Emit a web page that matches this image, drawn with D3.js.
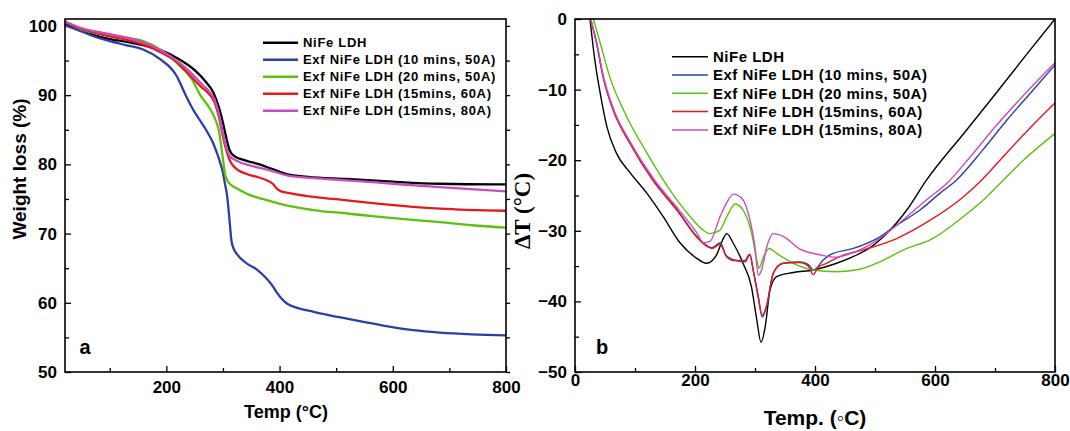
<!DOCTYPE html>
<html>
<head>
<meta charset="utf-8">
<script src="https://cdn.jsdelivr.net/npm/d3@7"></script>
<style>
body { margin: 0; background: #fff; }
svg { font-family: "Liberation Sans", Arial, sans-serif; font-weight: bold; }
.axis line { stroke: #000; stroke-width: 1.3; }
.axis path { display: none; }
</style>
</head>
<body>
<svg width="1070" height="431"></svg>
<script>
var seriesNames = ["NiFe LDH", "Exf NiFe LDH (10 mins, 50A)", "Exf NiFe LDH (20 mins, 50A)",
                   "Exf NiFe LDH (15mins, 60A)", "Exf NiFe LDH (15mins, 80A)"];
var seriesColors = ["#000000", "#2b3fa8", "#5ac20c", "#e41a1c", "#c94cbf"];

// (a) TGA, [temp, weight %]
var tgaNiFe = [[21,100.3],[50,99.3],[75,98.6],[100,98.1],[130,97.7],[160,97.2],[190,96.5],[220,95.3],[250,93.6],
  [270,91.9],[283,90.4],[293,88.2],[300,86.0],[306,83.8],[312,82.0],[320,81.2],[342,80.5],[360,80.1],[385,79.4],
  [413,78.6],[450,78.2],[519,77.9],[600,77.5],[683,77.2],[800,77.1]];
var tga10m50A = [[21,100.1],[50,99.2],[75,98.4],[100,97.8],[130,97.2],[159,96.6],[189,95.2],[218,92.8],[233,90.2],
  [246,88.1],[270,85.0],[282,83.2],[290,81.5],[296,80.0],[300,78.8],[304,77.0],[307,75.7],[311,72.5],[315,69.0],
  [319,67.8],[324,67.1],[342,65.7],[360,64.8],[377,63.5],[388,62.4],[395,61.5],[401,60.85],[413,59.9],[430,59.3],
  [460,58.7],[519,57.7],[577,56.8],[636,56.05],[683,55.7],[740,55.45],[800,55.3]];
var tga20m50A = [[21,100.7],[50,99.5],[75,99.0],[100,98.7],[130,98.3],[159,97.8],[189,96.6],[218,94.7],[245,92.3],
  [260,90.0],[275,88.3],[285,86.8],[293,84.8],[300,80.8],[304,78.5],[308,77.6],[312,77.2],[325,76.5],[342,75.75],
  [370,75.0],[401,74.3],[460,73.4],[519,72.9],[577,72.4],[630,72.0],[683,71.65],[740,71.2],[800,70.85]];
var tga15m60A = [[21,100.5],[50,99.6],[75,99.0],[100,98.5],[130,98.0],[160,97.3],[190,96.2],[215,95.0],[240,93.0],
  [260,91.3],[275,90.2],[285,89.0],[293,86.8],[300,84.0],[306,82.0],[312,80.6],[318,79.8],[342,78.6],[360,78.2],
  [377,77.7],[388,77.2],[395,76.5],[403,76.1],[413,75.9],[460,75.3],[519,74.8],[577,74.3],[683,73.6],[800,73.3]];
var tga15m80A = [[21,100.6],[50,99.7],[75,99.2],[100,98.8],[130,98.3],[160,97.6],[190,96.5],[215,95.2],[240,93.5],
  [260,91.8],[275,90.6],[285,89.4],[293,87.2],[300,84.5],[306,82.4],[312,81.2],[325,80.5],[350,79.8],[380,79.2],
  [413,78.4],[460,78.0],[519,77.7],[600,77.2],[683,76.7],[800,76.1]];

// (b) DTA, [temp, delta T]
var dtaNiFe = [[25,0],[33,-5.8],[42,-10.5],[53,-15.2],[69,-19.0],[92,-21.8],[120,-24.7],[147,-28.0],[175,-31.7],
  [203,-33.9],[219,-34.6],[236,-33.4],[246,-31.3],[253,-30.4],[264,-31.8],[280,-34.6],[294,-37.9],[303,-42.6],
  [310,-45.8],[317,-43.6],[325,-38.4],[336,-36.5],[364,-35.9],[397,-35.55],[436,-34.6],[475,-33.2],[486,-32.7],
  [520,-30.35],[553,-27.05],[586,-22.8],[650,-16.0],[700,-10.7],[750,-5.3],[800,0]];
var dta10m50A = [[26,0],[36,-3.4],[47,-8.2],[64,-12.9],[92,-17.6],[130,-22.8],[170,-27.0],[203,-30.8],[215,-31.8],
  [228,-32.4],[242,-31.7],[252,-33.5],[264,-34.1],[283,-34.4],[291.7,-33.4],[297,-35.55],[305.5,-39.3],[312,-42.2],
  [319.5,-40.7],[330.5,-36.0],[347,-34.6],[375,-34.4],[389,-34.8],[398,-35.55],[414,-34.1],[425,-33.4],[464,-32.5],
  [503,-31.1],[536,-29.2],[575,-27.05],[608,-24.7],[636,-22.8],[680,-18.5],[720,-14.3],[760,-10.4],[800,-6.5]];
var dta20m50A = [[30.5,0],[42,-3.4],[58,-8.2],[86,-13.8],[120,-19.0],[158,-24.2],[192,-28.0],[212,-29.8],[225,-30.4],
  [241.7,-29.9],[253,-28.0],[267,-26.2],[280.5,-27.1],[294.5,-30.4],[302.8,-34.1],[306.7,-35.3],[314,-33.7],
  [324,-32.5],[336,-33.2],[364,-34.6],[397,-35.55],[436,-35.8],[475,-35.45],[508,-34.4],[553,-32.5],[592,-31.3],
  [647,-28.0],[686,-25.2],[714,-22.8],[750,-19.8],[800,-16.2]];
var dta15m60A = [[26,0],[36,-3.5],[47,-8.3],[64,-13.0],[92,-17.7],[130,-22.9],[170,-27.1],[203,-30.9],[215,-31.9],
  [228,-32.5],[242,-31.9],[252,-33.6],[264,-34.2],[283,-34.2],[291,-33.3],[297,-35.6],[305.5,-39.5],[312,-42.0],
  [319.5,-40.5],[330.5,-36.0],[347,-34.6],[375,-34.5],[389,-35.0],[397,-36.2],[405,-35.2],[419.5,-34.6],[440,-33.7],
  [480.5,-32.7],[536,-31.1],[592,-28.5],[647,-25.2],[678,-22.8],[720,-18.9],[760,-15.3],[800,-11.9]];
var dta15m80A = [[26,0],[36,-3.3],[47,-8.0],[64,-12.7],[92,-17.4],[130,-22.5],[170,-26.7],[203,-30.3],[214,-31.7],
  [225,-31.5],[241.7,-28.0],[253,-26.0],[264,-24.8],[278,-25.4],[291.7,-28.5],[300,-32.3],[305.5,-36.3],[311,-35.55],
  [319.5,-32.3],[330.5,-30.4],[347,-30.8],[375,-32.6],[408,-33.4],[436,-33.75],[453,-33.4],[486,-32.25],[519.5,-30.35],
  [553,-28.0],[586,-25.6],[619.5,-23.3],[660,-19.4],[700,-15.3],[750,-10.6],[800,-6.2]];

var svg = d3.select("svg");

function drawPanel(o) {
  var x = d3.scaleLinear().domain(o.xDomain).range([o.left, o.right]);
  var y = d3.scaleLinear().domain(o.yDomain).range([o.bottom, o.top]);

  //minor ticks
  svg.append("g").attr("class", "axis")
    .attr("transform", "translate(0," + o.bottom + ")")
    .call(d3.axisBottom(x).tickValues(o.xMinor).tickSize(-4).tickFormat(""));
  svg.append("g").attr("class", "axis")
    .attr("transform", "translate(" + o.left + ",0)")
    .call(d3.axisLeft(y).tickValues(o.yMinor).tickSize(-4).tickFormat(""));

  //X axis
  svg.append("g").attr("class", "axis")
    .attr("transform", "translate(0," + o.bottom + ")")
    .call(d3.axisBottom(x).tickValues(o.xTicks).tickSize(-6).tickPadding(o.xPad))
    .selectAll("text").attr("font-size", 17).attr("fill", "#000");
  //Y axis
  svg.append("g").attr("class", "axis")
    .attr("transform", "translate(" + o.left + ",0)")
    .call(d3.axisLeft(y).tickValues(o.yTicks).tickSize(-6).tickPadding(8))
    .selectAll("text").attr("font-size", 17).attr("fill", "#000");

  if (o.rightTicks) {
    svg.append("g").attr("class", "axis")
      .attr("transform", "translate(" + o.right + ",0)")
      .call(d3.axisRight(y).tickValues(o.yTicks.concat(o.yMinor)).tickSize(4).tickFormat(""));
  }

  var line = d3.line()
    .x(function(d) { return x(d[0]); })
    .y(function(d) { return y(d[1]); })
    .curve(d3.curveMonotoneX);

  svg.append("g").selectAll("path")
    .data(o.series)
    .enter()
    .append("path")
    .attr("d", line)
    .attr("fill", "none")
    .attr("stroke", function(d, i) { return seriesColors[i]; })
    .attr("stroke-width", o.lineWidth)
    .attr("stroke-linejoin", "round");

  //frame
  svg.append("rect")
    .attr("x", o.left).attr("y", o.top)
    .attr("width", o.right - o.left).attr("height", o.bottom - o.top)
    .attr("fill", "none").attr("stroke", "#000").attr("stroke-width", 1.6);

  svg.append("text")
    .attr("x", o.xTitlePos[0]).attr("y", o.xTitlePos[1])
    .attr("text-anchor", "middle")
    .attr("font-size", o.xTitleSize)
    .text(o.xTitle);

  svg.append("text")
    .attr("x", o.tag[1]).attr("y", 354)
    .attr("text-anchor", "middle")
    .attr("font-size", 20)
    .text(o.tag[0]);

  //Legend
  var lg = svg.append("g")
    .attr("transform", "translate(" + o.legend.x + "," + o.legend.y + ")");
  var rows = lg.selectAll("g").data(seriesNames).enter().append("g")
    .attr("transform", function(d, i) { return "translate(0," + (i * o.legend.step) + ")"; });
  rows.append("line")
    .attr("x1", 0).attr("x2", o.legend.len)
    .attr("stroke", function(d, i) { return seriesColors[i]; })
    .attr("stroke-width", o.legend.width);
  rows.append("text")
    .attr("x", o.legend.len + 5)
    .attr("dy", "0.35em")
    .attr("font-size", o.legend.size)
    .attr("letter-spacing", o.legend.spacing)
    .text(function(d) { return d; });
}

drawPanel({
  left: 65, right: 506, top: 19, bottom: 372,
  xDomain: [21, 800], yDomain: [50, 101],
  xTicks: [200, 400, 600, 800], xMinor: [100, 300, 500, 700],
  yTicks: [50, 60, 70, 80, 90, 100], yMinor: [55, 65, 75, 85, 95],
  xPad: 9, rightTicks: true,
  series: [tgaNiFe, tga10m50A, tga20m50A, tga15m60A, tga15m80A],
  lineWidth: 2.3,
  xTitle: "Temp (°C)", xTitlePos: [286, 418], xTitleSize: 18,
  tag: ["a", 85],
  legend: { x: 263, y: 42.7, step: 17, len: 35, width: 2.6, size: 13, spacing: 0.7 }
});

drawPanel({
  left: 575, right: 1055, top: 19, bottom: 372,
  xDomain: [0, 800], yDomain: [-50, 0],
  xTicks: [0, 200, 400, 600, 800], xMinor: [100, 300, 500, 700],
  yTicks: [-50, -40, -30, -20, -10, 0], yMinor: [-45, -35, -25, -15, -5],
  xPad: 2, rightTicks: false,
  series: [dtaNiFe, dta10m50A, dta20m50A, dta15m60A, dta15m80A],
  lineWidth: 1.4,
  xTitle: "Temp. (◦C)", xTitlePos: [815, 425], xTitleSize: 21,
  tag: ["b", 602],
  legend: { x: 672, y: 56.7, step: 18.3, len: 36, width: 1.5, size: 15, spacing: 0.5 }
});

//Y labels
svg.append("text")
  .attr("transform", "translate(26,169) rotate(-90)")
  .attr("text-anchor", "middle")
  .attr("font-size", 19)
  .text("Weight loss (%)");

svg.append("text")
  .attr("transform", "translate(530,211) rotate(-90)")
  .attr("text-anchor", "middle")
  .attr("font-family", "'Liberation Serif', 'Times New Roman', serif")
  .attr("font-size", 23)
  .text("ΔT (°C)");
</script>
</body>
</html>
